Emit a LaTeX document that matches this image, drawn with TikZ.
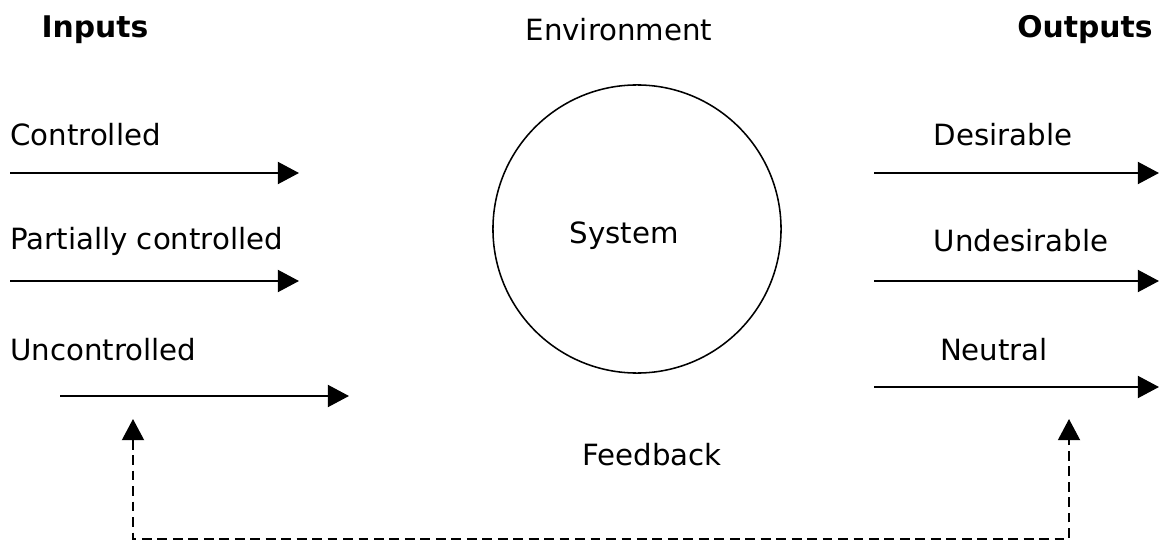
\documentclass[tikz,border=0pt]{standalone}
\usepackage{fontspec}
\setmainfont{DejaVu Sans}
\usetikzlibrary{arrows.meta}

\begin{document}
\begin{tikzpicture}[
    x=0.025cm, y=-0.025cm,
    % Styles
    label/.style={% For the plain texts
        inner sep=0pt,
        font=\fontsize{20.8}{24}\selectfont,
        },
    head/.style={% For the column titles
        label,
        font=\fontsize{21.2}{24}\selectfont\bfseries,
        },
    system/.style={% For the circle
        circle,
        draw,
        line width=1.1pt,
        },
    flow/.style={% Solid arrows
        line width=1.5pt,
        -{Triangle[length=0.53cm,width=0.55cm]},
        },
    feedback/.style={% Dashed loop
        line width=1.4pt,
        dash pattern=on 7pt off 4pt,
        {Triangle[length=0.53cm,width=0.55cm]}-{Triangle[length=0.53cm,width=0.55cm]},
        },
    ]
    \useasboundingbox (0,0) rectangle (1159,551);

    % Titles
    \node [head] (inputs) at (95,30) {Inputs};
    \node [label] (env) at (619,30) {Environment};
    \node [head] (outputs) at (1085,30) {Outputs};

    % The system
    \node [system, minimum size=7.2cm] (sys) at (637,229) {};
    \node [label] (systxt) at (624,236) {System};

    % Inputs
    \node [label, anchor=west] (ctrl) at (10,135) {Controlled};
    \node [label, anchor=west] (pctrl) at (10,241) {Partially controlled};
    \node [label, anchor=west] (unctrl) at (10,350) {Uncontrolled};
    \coordinate (i1a) at (10,173);  \coordinate (i1b) at (299,173);
    \coordinate (i2a) at (10,281);  \coordinate (i2b) at (299,281);
    \coordinate (i3a) at (60,396);  \coordinate (i3b) at (349,396);

    % Outputs
    \node [label] (des) at (1003,135) {Desirable};
    \node [label] (undes) at (1021,241) {Undesirable};
    \node [label] (neut) at (994,350) {Neutral};
    \coordinate (o1a) at (874,173);  \coordinate (o1b) at (1159,173);
    \coordinate (o2a) at (874,281);  \coordinate (o2b) at (1159,281);
    \coordinate (o3a) at (874,387);  \coordinate (o3b) at (1159,387);

    % Feedback
    \node [label] (fb) at (652,455) {Feedback};
    \coordinate (fbL) at (133,419);
    \coordinate (fbB) at (133,539);
    \coordinate (fbR) at (1069,419);

    % Arrows
    \draw [flow] (i1a) -- (i1b);
    \draw [flow] (i2a) -- (i2b);
    \draw [flow] (i3a) -- (i3b);
    \draw [flow] (o1a) -- (o1b);
    \draw [flow] (o2a) -- (o2b);
    \draw [flow] (o3a) -- (o3b);
    \draw [feedback] (fbL) -- (fbB) -| (fbR);

\end{tikzpicture}
\end{document}
